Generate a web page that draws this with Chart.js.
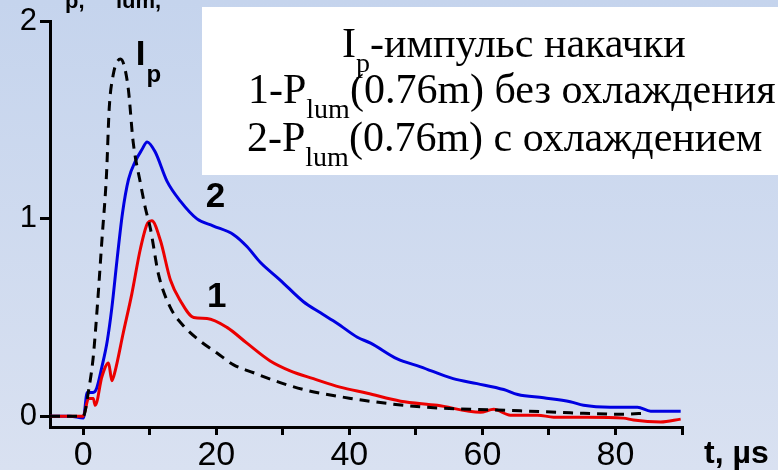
<!DOCTYPE html>
<html>
<head>
<meta charset="utf-8">
<script src="https://cdn.jsdelivr.net/npm/chart.js@4/dist/chart.umd.min.js"></script>
<style>
html,body{margin:0;padding:0;background:#cfdaee;}
#wrap{width:778px;height:470px;}
</style>
</head>
<body>
<div id="wrap"><canvas id="c" width="778" height="470"></canvas></div>
<script>
// ---- data ----
const pumpT = [-5, 0, 0.8, 1.5, 2.1, 2.8, 3.5, 3.9, 4.5, 5.0, 5.6, 6.2, 6.8, 7.5, 8.6, 9.3, 10.1, 11.3, 13.1, 15.0, 17.6, 20.1, 22.6, 25.6, 29.6, 33.1, 36.7, 40.2, 43.2, 50.7, 58.2, 65.7, 73.2, 80.8, 84.8];
const pumpV = [0, 0, 0.13, 0.30, 0.55, 0.89, 1.23, 1.56, 1.73, 1.79, 1.81, 1.77, 1.65, 1.39, 1.18, 1.06, 0.95, 0.72, 0.55, 0.46, 0.38, 0.32, 0.26, 0.22, 0.17, 0.135, 0.11, 0.09, 0.075, 0.047, 0.035, 0.027, 0.017, 0.01, 0.015];

const coolT = [-5, -2, 0, 0.6, 1.5, 2.0, 2.8, 3.6, 4.3, 5.1, 5.9, 6.8, 7.8, 8.8, 9.6, 10.8, 12.6, 14.6, 17.1, 19.5, 22.6, 24.6, 26.6, 29.6, 33.1, 35.6, 38.2, 41.2, 43.2, 47.2, 50.7, 55.6, 59.2, 63.2, 65.3, 69.2, 73.2, 75.2, 79.2, 83.3, 85.3, 89.8];
const coolV = [0, 0, -0.01, 0.12, 0.12, 0.14, 0.25, 0.38, 0.55, 0.80, 1.03, 1.20, 1.29, 1.35, 1.39, 1.34, 1.19, 1.09, 1.00, 0.965, 0.92, 0.86, 0.78, 0.69, 0.58, 0.525, 0.47, 0.40, 0.37, 0.29, 0.25, 0.19, 0.165, 0.135, 0.11, 0.093, 0.073, 0.055, 0.045, 0.045, 0.025, 0.025];

const noCoolT = [-5, 0, 0.8, 1.5, 1.8, 2.8, 3.8, 4.3, 4.8, 6.0, 7.3, 8.6, 9.7, 10.3, 11.6, 13.1, 14.6, 16.6, 18.6, 21.6, 24.6, 28.1, 31.1, 34.6, 38.6, 42.7, 47.7, 53.2, 59.7, 61.7, 64.2, 68.3, 70.7, 75.8, 81.2, 82.7, 86.8, 89.8];
const noCoolV = [0, 0, 0.09, 0.09, 0.055, 0.2, 0.27, 0.18, 0.23, 0.42, 0.62, 0.85, 0.98, 0.99, 0.89, 0.69, 0.585, 0.50, 0.495, 0.45, 0.37, 0.28, 0.23, 0.19, 0.147, 0.116, 0.076, 0.055, 0.02, 0.035, 0.005, 0.005, -0.005, -0.005, -0.01, -0.02, -0.03, -0.015];

const xTicks = [0, 10, 20, 30, 40, 50, 60, 70, 80, 90];
const xLabels = ['0', '', '20', '', '40', '', '60', '', '80', ''];
const yTicks = [0, 1, 2];
const yLabels = ['0', '1', '2'];

const legendLines = [
  [['I', 0], ['p', 1], ['-импульс накачки', 0]],
  [['1-P', 0], ['lum', 1], ['(0.76m) без охлаждения', 0]],
  [['2-P', 0], ['lum', 1], ['(0.76m) с охлаждением', 0]]
];
const curveLabels = [
  {main: 'I', sub: 'p', t: 7.9, v: 1.78},
  {main: '2', sub: '', t: 18.4, v: 1.06},
  {main: '1', sub: '', t: 18.6, v: 0.555}
];

const pts = (t, v) => t.map((x, i) => ({x: x, y: v[i]}));

const bgPlugin = {
  id: 'bg',
  beforeDraw(chart) {
    const ctx = chart.ctx;
    const g = ctx.createLinearGradient(0, 0, 0, chart.height);
    g.addColorStop(0, 'rgb(197,212,237)');
    g.addColorStop(1, 'rgb(217,225,241)');
    ctx.save();
    ctx.fillStyle = g;
    ctx.fillRect(0, 0, chart.width, chart.height);
    ctx.restore();
  }
};

const textPlugin = {
  id: 'texts',
  afterDraw(chart) {
    const ctx = chart.ctx;
    const xs = chart.scales.x, ys = chart.scales.y;
    ctx.save();
    ctx.fillStyle = '#000';
    ctx.textBaseline = 'alphabetic';
    ctx.textAlign = 'left';
    // cut-off y axis title at the very top
    ctx.font = 'bold 30px "Liberation Sans"';
    ctx.fillText('I', 57, -4);
    ctx.fillText('P', 98, -4);
    ctx.font = 'bold 22px "Liberation Sans"';
    ctx.fillText('p,', 65, 8);
    ctx.fillText('lum,', 116, 8);

    // x axis title
    ctx.font = 'bold 32px "Liberation Sans"';
    ctx.fillText('t, µs', 704, 463);

    // curve labels
    curveLabels.forEach(l => {
      const px = xs.getPixelForValue(l.t), py = ys.getPixelForValue(l.v);
      ctx.font = 'bold 35px "Liberation Sans"';
      ctx.fillText(l.main, px, py);
      if (l.sub) {
        const w = ctx.measureText(l.main).width;
        ctx.font = 'bold 24px "Liberation Sans"';
        ctx.fillText(l.sub, px + w + 1, py + 17);
      }
    });

    // legend box
    ctx.fillStyle = '#ffffff';
    ctx.fillRect(202, 7, 576, 168);
    ctx.fillStyle = '#000';
    const mainF = '42px "Liberation Serif"', subF = '28px "Liberation Serif"';
    const bases = [57, 103, 151];
    const starts = [342, 248, 247];
    legendLines.forEach((line, i) => {
      let x = starts[i];
      line.forEach(([s, sub]) => {
        ctx.font = sub ? subF : mainF;
        ctx.fillText(s, x, bases[i] + (sub ? 15 : 0));
        x += ctx.measureText(s).width;
      });
    });
    ctx.restore();
  }
};

new Chart(document.getElementById('c'), {
  type: 'line',
  data: {
    datasets: [
      {label: 'Ip', data: pts(pumpT, pumpV), borderColor: '#000', borderWidth: 3, borderDash: [10, 7], pointRadius: 0, cubicInterpolationMode: 'monotone', fill: false},
      {label: '1', data: pts(noCoolT, noCoolV), borderColor: 'rgb(235,0,0)', borderWidth: 3, pointRadius: 0, cubicInterpolationMode: 'monotone', fill: false},
      {label: '2', data: pts(coolT, coolV), borderColor: 'rgb(0,0,225)', borderWidth: 3, pointRadius: 0, cubicInterpolationMode: 'monotone', fill: false}
    ]
  },
  options: {
    responsive: false,
    animation: false,
    devicePixelRatio: 1,
    layout: {padding: {top: 20, right: 96, left: 0, bottom: 0}},
    plugins: {legend: {display: false}, tooltip: {enabled: false}},
    scales: {
      x: {
        type: 'linear', min: -5, max: 90,
        afterFit: s => { s.height = 43; },
        afterBuildTicks: s => { s.ticks = xTicks.map(v => ({value: v})); },
        border: {color: '#000', width: 3},
        grid: {drawOnChartArea: false, drawTicks: true, tickLength: 8, color: '#000', lineWidth: 3},
        ticks: {
          color: '#000', font: {family: 'Liberation Sans', size: 34}, padding: 0, maxRotation: 0, autoSkip: false,
          callback: (v) => { const i = xTicks.indexOf(v); return i >= 0 ? xLabels[i] : ''; }
        }
      },
      y: {
        type: 'linear', min: -0.055, max: 2.0,
        afterFit: s => { s.width = 50; },
        afterBuildTicks: s => { s.ticks = yTicks.map(v => ({value: v})); },
        border: {color: '#000', width: 3},
        grid: {drawOnChartArea: false, drawTicks: true, tickLength: 10, color: '#000', lineWidth: 3},
        ticks: {
          color: '#000', font: {family: 'Liberation Sans', size: 31}, padding: 3,
          callback: (v) => { const i = yTicks.indexOf(v); return i >= 0 ? yLabels[i] : ''; }
        }
      }
    }
  },
  plugins: [bgPlugin, textPlugin]
});
</script>
</body>
</html>
